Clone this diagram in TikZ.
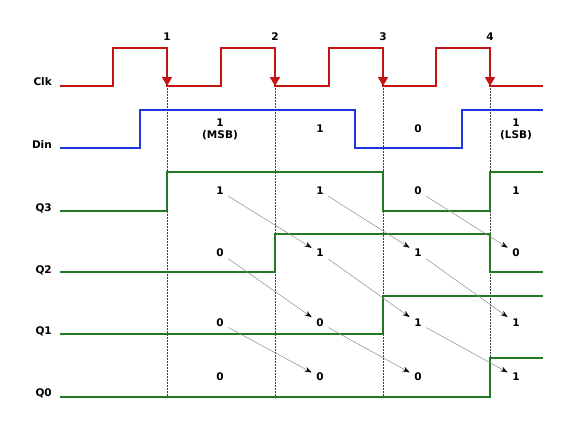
\documentclass[tikz,border=0pt]{standalone}
\usepackage{fontspec}
\setmainfont{DejaVu Sans}
\usetikzlibrary{arrows.meta}
\definecolor{clkred}{RGB}{195,20,20}
\definecolor{dinblue}{RGB}{30,55,220}
\definecolor{qgreen}{RGB}{35,120,35}
\begin{document}
\begin{tikzpicture}[x=1pt,y=-1pt,
  lbl/.style={font=\fontsize{10.5}{12}\selectfont\bfseries, inner sep=0pt},
  rowlbl/.style={lbl, anchor=east},
  val/.style={lbl, inner sep=4.5pt, align=center},
  clkw/.style={draw=clkred, line width=1.9pt},
  clkarr/.style={draw=clkred, line width=1.9pt, -{Triangle[width=10pt,length=9pt]}},
  dinw/.style={draw=dinblue, line width=1.9pt},
  qw/.style={draw=qgreen, line width=1.9pt},
  guide/.style={draw=black!75, densely dotted, line width=0.5pt},
  shiftarr/.style={draw=black!45, line width=0.5pt, -{Stealth[length=7pt,width=5pt,color=black]}}
]
\useasboundingbox (0,0) rectangle (578,429);

% guide lines
\foreach \x in {167,275,383,490} \draw[guide] (\x,86) -- (\x,397);

% clock
\draw[clkw] (60,86) -| (113,48) -| (167,86) -| (221,48) -| (275,86) -| (329,48) -| (383,86) -| (436,48) -| (490,86) -- (543,86);
\foreach \x in {167,275,383,490} \draw[clkarr] (\x,50) -- (\x,86);
\node[lbl] (c1) at (167,37) {1};
\node[lbl] (c2) at (275,37) {2};
\node[lbl] (c3) at (383,37) {3};
\node[lbl] (c4) at (490,37) {4};

% Din
\draw[dinw] (60,148) -| (140,110) -| (355,148) -| (462,110) -- (543,110);
\node[lbl, align=center] (d1) at (220,129) {1\\(MSB)};
\node[lbl] (d2) at (320,129) {1};
\node[lbl] (d3) at (418,129) {0};
\node[lbl, align=center] (d4) at (516,129) {1\\(LSB)};

% Q waveforms
\draw[qw] (60,211) -| (167,172) -| (383,211) -| (490,172) -- (543,172);
\draw[qw] (60,272) -| (275,234) -| (490,272) -- (543,272);
\draw[qw] (60,334) -| (383,296) -- (543,296);
\draw[qw] (60,397) -| (490,358) -- (543,358);

% row labels
\node[rowlbl] (lclk) at (52,82) {Clk};
\node[rowlbl] (ldin) at (52,145) {Din};
\node[rowlbl] (lq3) at (52,208) {Q3};
\node[rowlbl] (lq2) at (52,270) {Q2};
\node[rowlbl] (lq1) at (52,331) {Q1};
\node[rowlbl] (lq0) at (52,393) {Q0};

% values
\node[val] (a1) at (220,191) {1};
\node[val] (a2) at (320,191) {1};
\node[val] (a3) at (418,191) {0};
\node[val] (a4) at (516,191) {1};
\node[val] (b1) at (220,253) {0};
\node[val] (b2) at (320,253) {1};
\node[val] (b3) at (418,253) {1};
\node[val] (b4) at (516,253) {0};
\node[val] (e1) at (220,323) {0};
\node[val] (e2) at (320,323) {0};
\node[val] (e3) at (418,323) {1};
\node[val] (e4) at (516,323) {1};
\node[val] (f1) at (220,377) {0};
\node[val] (f2) at (320,377) {0};
\node[val] (f3) at (418,377) {0};
\node[val] (f4) at (516,377) {1};

% shift arrows
\draw[shiftarr] (a1) -- (b2);
\draw[shiftarr] (a2) -- (b3);
\draw[shiftarr] (a3) -- (b4);
\draw[shiftarr] (b1) -- (e2);
\draw[shiftarr] (b2) -- (e3);
\draw[shiftarr] (b3) -- (e4);
\draw[shiftarr] (e1) -- (f2);
\draw[shiftarr] (e2) -- (f3);
\draw[shiftarr] (e3) -- (f4);
\end{tikzpicture}
\end{document}
